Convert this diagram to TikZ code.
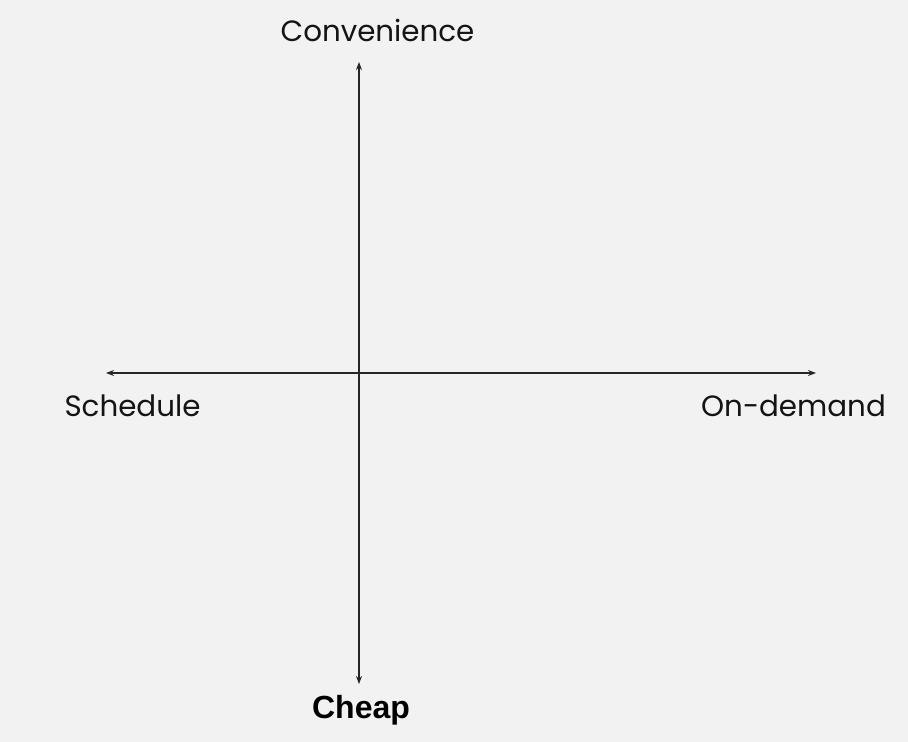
\documentclass[tikz,border=0pt]{standalone}
\usepackage{fontspec}
\setmainfont{Poppins}
\newfontfamily\cheapfont{Liberation Sans}
\usetikzlibrary{arrows.meta}
\begin{document}
\begin{tikzpicture}[x=0.75pt,y=-0.75pt,
  axis/.style={draw=black!85,line width=1.1pt,-{Stealth[length=6pt,width=4.5pt]}},
  lbl/.style={font=\fontsize{22}{26}\selectfont,text=black!92,inner sep=0pt},
  boldlbl/.style={font=\cheapfont\bfseries\fontsize{24}{28}\selectfont,text=black,inner sep=0pt}]
\fill[black!5] (0,0) rectangle (908,742);
\useasboundingbox (0,0) rectangle (908,742);
\coordinate (c) at (359,373);
\coordinate (top) at (359,62);
\coordinate (bot) at (359,684);
\coordinate (left) at (106,373);
\coordinate (right) at (816,373);
\draw[axis] (c) -- (top);
\draw[axis] (c) -- (bot);
\draw[axis] (c) -- (left);
\draw[axis] (c) -- (right);
\node[lbl] (conv) at (377.5,30) {Convenience};
\node[lbl] (sched) at (132.5,406) {Schedule};
\node[lbl] (ond) at (793.5,406) {On-demand};
\node[boldlbl] (cheap) at (361,710) {Cheap};
\end{tikzpicture}
\end{document}
